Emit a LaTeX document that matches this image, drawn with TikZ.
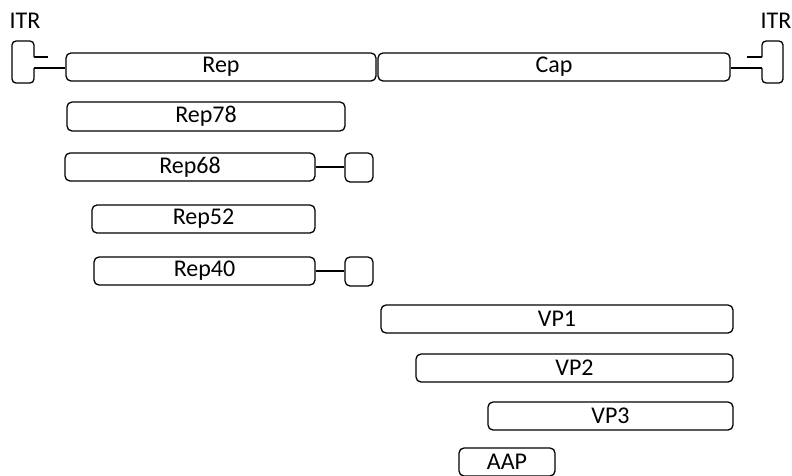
\documentclass[tikz,border=0pt]{standalone}
\usepackage{fontspec}
\setmainfont{Carlito}
\begin{document}
\begin{tikzpicture}[x=1pt,y=-1pt,
  gene/.style={draw, line width=1.3pt, rounded corners=5pt, inner sep=0pt, font=\fontsize{24}{24}\selectfont, minimum height=28pt},
  lbl/.style={font=\fontsize{24}{24}\selectfont, inner sep=0pt},
  ln/.style={line width=1.3pt},
  itr/.style={line width=1.3pt, rounded corners=4pt}]
\useasboundingbox (0,0) rectangle (792,475);
% main genome
\node[gene, minimum width=310pt] (rep) at (221,67) {Rep};
\node[gene, minimum width=352pt] (cap) at (554,67) {Cap};
% ITRs
\node[lbl, anchor=base] (itrL) at (25,28) {ITR};
\node[lbl, anchor=base] (itrR) at (776,28) {ITR};
\coordinate (lA) at (34,57);
\coordinate (lB) at (34,68);
\coordinate (lT) at (48,57);
\coordinate (rA) at (762,57);
\coordinate (rB) at (762,68);
\coordinate (rT) at (747,57);
\draw[itr] (lA) -- (34,41) -- (12,41) -- (12,83) -- (34,83) -- (lB);
\draw[ln] (lA) -- (lT);
\draw[ln] (lB) -- (rep.west |- lB);
\draw[itr] (rA) -- (762,41) -- (783,41) -- (783,83) -- (762,83) -- (rB);
\draw[ln] (rA) -- (rT);
\draw[ln] (rB) -- (cap.east |- rB);
% Rep proteins
\node[gene, minimum width=278pt, minimum height=29pt] (rep78) at (206,116.5) {Rep78};
\node[gene, minimum width=250pt] (rep68) at (190,167) {Rep68};
\node[gene, minimum width=28pt, minimum height=29pt] (s68) at (359,167.5) {};
\draw[ln] (rep68.east) -- (s68.west |- rep68.east);
\node[gene, minimum width=223pt] (rep52) at (203.5,219) {Rep52};
\node[gene, minimum width=221pt] (rep40) at (204.5,271) {Rep40};
\node[gene, minimum width=28pt, minimum height=29pt] (s40) at (359,271.5) {};
\draw[ln] (rep40.east) -- (s40.west |- rep40.east);
% Cap proteins
\node[gene, minimum width=352pt] (vp1) at (557,319) {VP1};
\node[gene, minimum width=317pt] (vp2) at (574.5,368) {VP2};
\node[gene, minimum width=245pt] (vp3) at (610.5,416) {VP3};
\node[gene, minimum width=96pt] (aap) at (507,462) {AAP};
\end{tikzpicture}
\end{document}
